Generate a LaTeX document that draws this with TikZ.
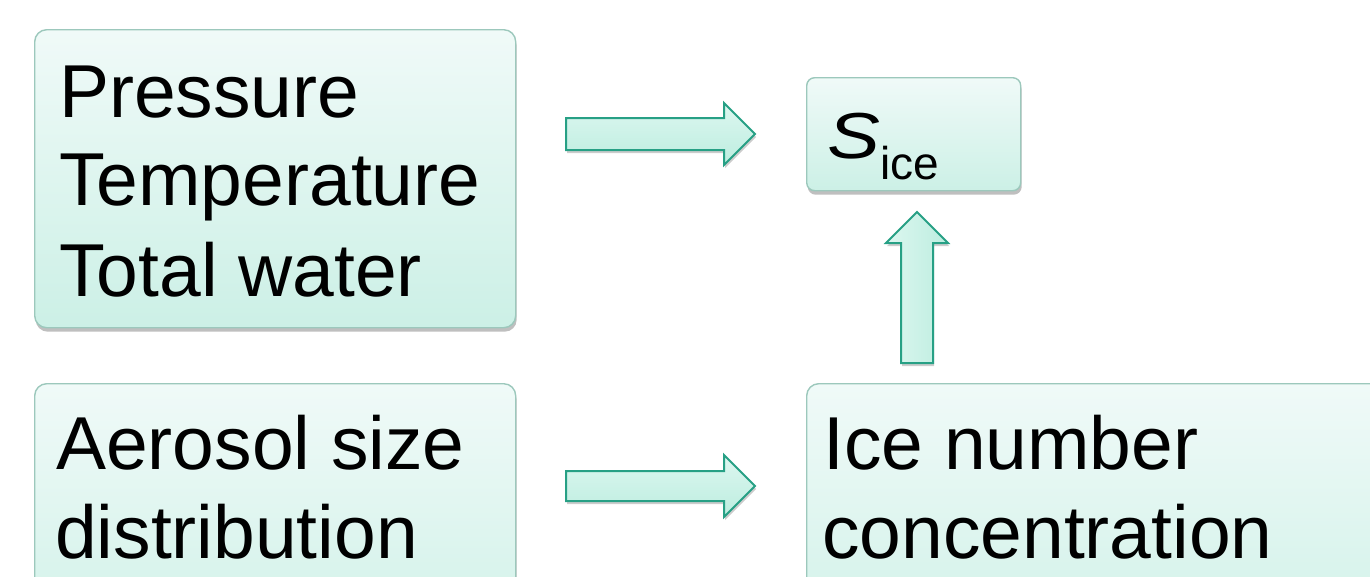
\documentclass[tikz,border=0pt]{standalone}
\usepackage{fontspec}
\setmainfont{Liberation Sans}
\usetikzlibrary{shadows}
\definecolor{boxtop}{HTML}{F0FAF8}
\definecolor{boxbot}{HTML}{CCF0E6}
\definecolor{boxline}{HTML}{9CC8BC}
\definecolor{arrtop}{HTML}{DDF7F0}
\definecolor{arrbot}{HTML}{BCEDDF}
\definecolor{arrline}{HTML}{27A085}
\tikzset{
  box/.style={draw=boxline, line width=1.4pt, rounded corners=12pt,
    top color=boxtop, bottom color=boxbot, anchor=north west, inner sep=0pt,
    drop shadow={shadow xshift=1pt, shadow yshift=-4pt, opacity=0.25, fill=black}},
  txt/.style={font=\fontsize{75}{90}\selectfont, inner sep=0pt, anchor=base west, text=black},
  blockarrow/.style={draw=arrline, line width=2pt, line join=miter,
    top color=arrtop, bottom color=arrbot,
    drop shadow={shadow xshift=1pt, shadow yshift=-3pt, opacity=0.2, fill=black}},
  uparrow/.style={blockarrow, left color=arrtop, right color=arrbot}
}
\begin{document}
\begin{tikzpicture}[x=1pt,y=-1pt]
\useasboundingbox (0,0) rectangle (1370,576);
\clip (0,0) rectangle (1370,576);
% boxes
\node[box, minimum width=481pt, minimum height=298pt] (ptw) at (34,29) {};
\node[box, minimum width=481pt, minimum height=298pt] (aer) at (34,383) {};
\node[box, minimum width=600pt, minimum height=298pt] (inc) at (806,383) {};
\node[box, rounded corners=8pt, minimum width=214pt, minimum height=113pt] (sice) at (806,77) {};
% texts
\node[txt] (t1) at (59,117) {Pressure};
\node[txt] (t2) at (59,205) {Temperature};
\node[txt] (t3) at (59,296) {Total water};
\node[txt] (t4) at (56,469) {Aerosol size};
\node[txt] (t5) at (55,558) {distribution};
\node[txt] (t6) at (823,469) {Ice number};
\node[txt] (t7) at (822,558) {concentration};
\node[txt] (t8) at (827,158)
  {\scalebox{1.22}[1]{\fontsize{65}{70}\selectfont\itshape S}\raisebox{-21pt}{\fontsize{46}{48}\selectfont ice}};
% block arrows
\coordinate (a1) at (566,134);
\coordinate (a2) at (566,486);
\coordinate (a3) at (917,363);
\draw[blockarrow] (566,118) -- (724,118) -- (724,103) -- (755,134)
  -- (724,165) -- (724,150) -- (566,150) -- cycle;
\draw[blockarrow] (566,471) -- (724,471) -- (724,455) -- (755,486)
  -- (724,517) -- (724,501) -- (566,501) -- cycle;
\draw[uparrow] (901,363) -- (901,243) -- (886,243) -- (917,212)
  -- (948,243) -- (933,243) -- (933,363) -- cycle;
\end{tikzpicture}
\end{document}
